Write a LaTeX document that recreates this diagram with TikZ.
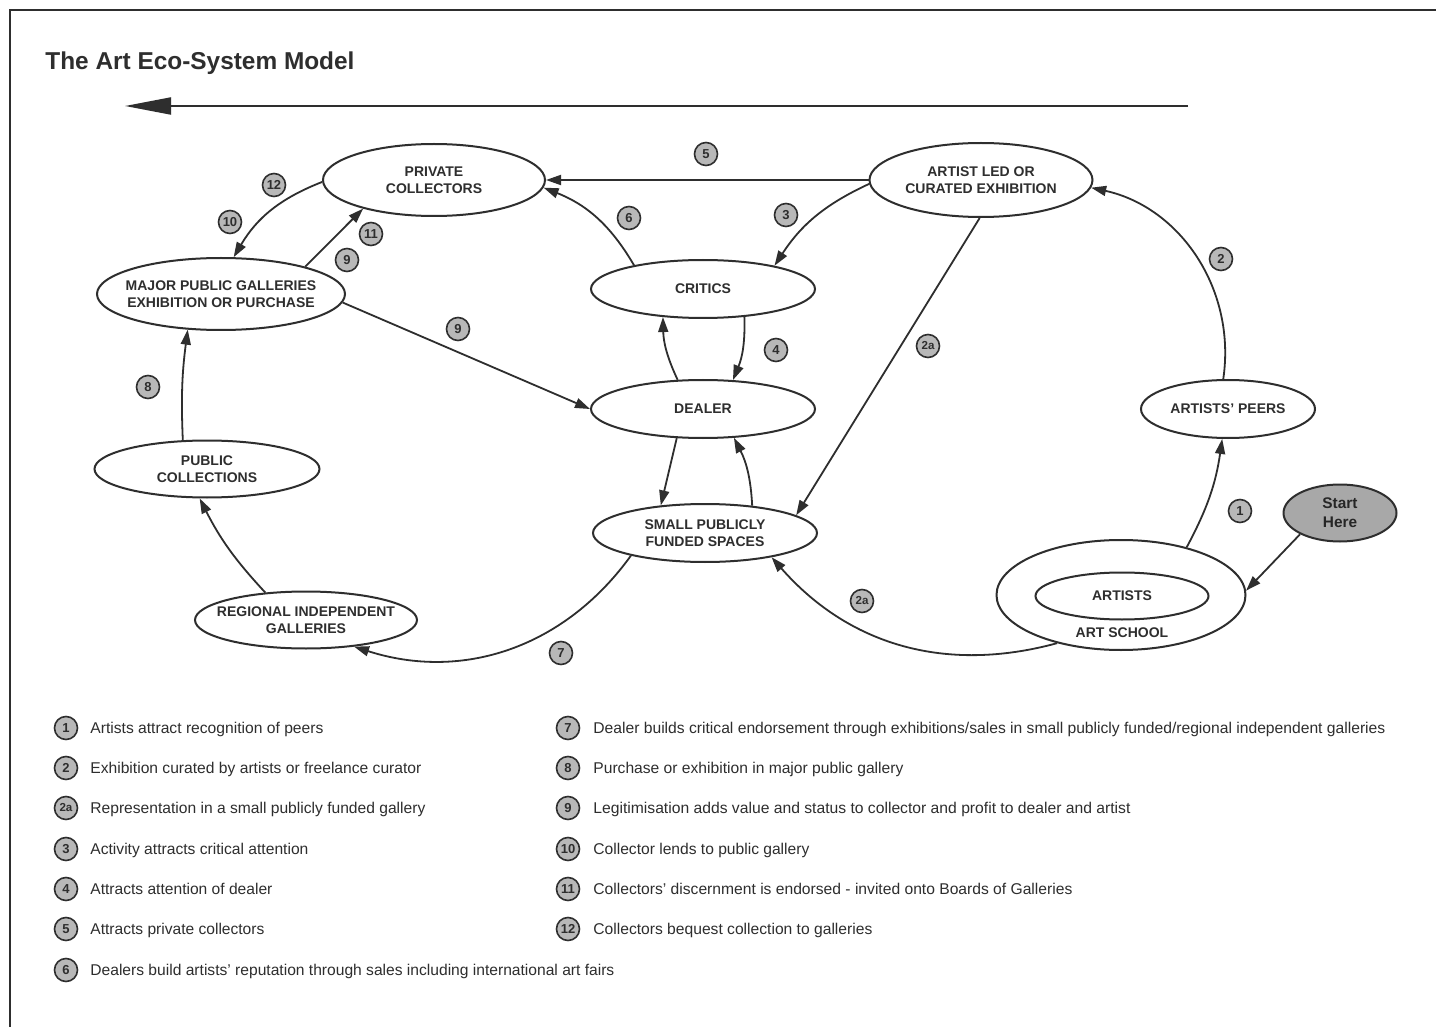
\documentclass[tikz,border=0pt]{standalone}
\usepackage{fontspec}
\setmainfont{Liberation Sans}
\usetikzlibrary{shapes.geometric,arrows.meta}
\definecolor{ink}{HTML}{2E2E2E}
\definecolor{badgefill}{HTML}{B8B8B8}
\definecolor{startfill}{HTML}{A8A8A8}
\newcommand{\fitw}[2]{\resizebox{#1}{\height}{#2}}
\begin{document}
\begin{tikzpicture}[x=0.5pt,y=-0.5pt,
  ent/.style={ellipse, draw=ink, line width=1pt, fill=white, inner sep=0pt},
  lbl/.style={font=\fontsize{7}{8.5}\selectfont\bfseries, text=ink, align=center, inner sep=0pt},
  edge/.style={draw=ink, line width=0.9pt, -{Triangle[length=7.5pt,width=5pt]}},
  badge/.style={circle, draw=ink, line width=0.8pt, fill=badgefill, inner sep=0pt, minimum size=11.5pt, font=\fontsize{6.5}{6.5}\selectfont\bfseries, text=ink},
  legtext/.style={anchor=base west, inner sep=0pt, font=\fontsize{7.8}{9}\selectfont, text=ink}]
\useasboundingbox (0,0) rectangle (1436,1027);
\fill[white] (0,0) rectangle (1436,1027);
% frame
\draw[ink, line width=0.75pt] (10,1027) -- (10,10) -- (1436,10);
% title
\node[anchor=base west, inner sep=0pt, font=\fontsize{12.2}{14}\selectfont\bfseries, text=ink] (title) at (45,70) {The Art Eco-System Model};
% top arrow
\coordinate (ta) at (1188,106);
\coordinate (tb) at (125,106);
\draw[ink, line width=1pt, -{Triangle[length=23pt,width=8.5pt]}] (ta) -- (tb);

% entities
\node[ent, minimum width=111pt, minimum height=36pt, label={[lbl,name=pcT]center:PRIVATE\\COLLECTORS}] (pc) at (434,180) {};
\node[ent, minimum width=111.5pt, minimum height=37pt, label={[lbl,name=aleT]center:ARTIST LED OR\\CURATED EXHIBITION}] (ale) at (981,180) {};
\node[ent, minimum width=112pt, minimum height=29pt, label={[lbl,name=crT]center:CRITICS}] (cr) at (703,289) {};
\node[ent, minimum width=112pt, minimum height=29pt, label={[lbl,name=deT]center:DEALER}] (de) at (703,409) {};
\node[ent, minimum width=112pt, minimum height=29pt, label={[lbl,name=smT]center:SMALL PUBLICLY\\FUNDED SPACES}] (sm) at (705,533) {};
\node[ent, minimum width=124pt, minimum height=36pt, label={[lbl,name=mpgT]center:MAJOR PUBLIC GALLERIES\\EXHIBITION OR PURCHASE}] (mpg) at (221,294) {};
\node[ent, minimum width=112.5pt, minimum height=28.5pt, label={[lbl,name=pubT]center:PUBLIC\\COLLECTIONS}] (pub) at (207,469) {};
\node[ent, minimum width=111pt, minimum height=28.5pt, label={[lbl,name=regT]center:REGIONAL INDEPENDENT\\GALLERIES}] (reg) at (306,620) {};
\node[ent, minimum width=87pt, minimum height=29pt, label={[lbl,name=peersT]center:ARTISTS' PEERS}] (peers) at (1228,409) {};
\node[ent, minimum width=124.5pt, minimum height=55pt] (school) at (1121,595) {};
\node[ent, minimum width=86.5pt, minimum height=23.5pt, label={[lbl,name=artistsT]center:ARTISTS}] (artists) at (1122,596) {};
\node[lbl] (schoolT) at (1122,633) {ART SCHOOL};
\node[ent, fill=startfill, minimum width=56.5pt, minimum height=28.5pt, label={[lbl,name=startT,font=\fontsize{7.7}{9.5}\selectfont\bfseries,text=black!85]center:Start\\Here}] (start) at (1340,513) {};

% connectors
\draw[edge] (school.36.9) to[bend right=10] (peers.259);
\draw[edge] (peers.99.8) to[bend right=43] (ale.356.4);
\draw[edge] (ale.268.5) -- (sm.11.6);
\draw[edge] (ale.182.6) to[bend right=16] (cr.18.4);
\draw[edge] (cr.326.6) to[bend left=12] (de.44);
\draw[edge] (de.131.9) to[bend left=12] (cr.215.3);
\draw[edge] (cr.161) to[bend right=19] (pc.356.4);
\draw[edge] (ale.180) -- (pc.0);
\draw[edge] (de.228) -- (sm.148);
\draw[edge] (sm.30.4) to[bend right=12] (de.317);
\draw[edge] (mpg.356.3) -- (de.180.5);
\draw[edge] (mpg.18.2) -- (pc.202);
\draw[edge] (pc.181.5) to[bend right=19] (mpg.71.6);
\draw[edge] (pub.130.6) to[bend left=5] (mpg.227.5);
\draw[edge] (reg.146.9) to[bend left=8] (pub.256);
\draw[edge] (sm.197.3) to[bend left=36] (reg.331);
\draw[edge] (school.217.3) to[bend left=32] (sm.340.7);
\draw[edge] (start.208.8) -- (school.2.3);

% diagram badges
\node[badge] (b5) at (706,154) {5};
\node[badge] (b12) at (274,185) {12};
\node[badge] (b10) at (230,222) {10};
\node[badge] (b11) at (371,234) {11};
\node[badge] (b9a) at (347,260) {9};
\node[badge] (b6) at (629,218) {6};
\node[badge] (b3) at (786,215) {3};
\node[badge] (b2) at (1221,259) {2};
\node[badge] (b9b) at (458,329) {9};
\node[badge, font=\fontsize{5.8}{5.8}\selectfont\bfseries] (b2aa) at (928,346) {2a};
\node[badge] (b4) at (776,350) {4};
\node[badge] (b8) at (148,387) {8};
\node[badge] (b1) at (1240,511) {1};
\node[badge, font=\fontsize{5.8}{5.8}\selectfont\bfseries] (b2ab) at (862,601) {2a};
\node[badge] (b7) at (561,653) {7};

% legend left
\node[badge] (l1) at (66,728) {1};
\node[legtext] (t1) at (90,733.5) {\fitw{116.5pt}{Artists attract recognition of peers}};
\node[badge] (l2) at (66,768) {2};
\node[legtext] (t2) at (90,773.5) {\fitw{165.5pt}{Exhibition curated by artists or freelance curator}};
\node[badge, font=\fontsize{5.8}{5.8}\selectfont\bfseries] (l2a) at (66,808) {2a};
\node[legtext] (t2a) at (90,813.5) {\fitw{167.5pt}{Representation in a small publicly funded gallery}};
\node[badge] (l3) at (66,849) {3};
\node[legtext] (t3) at (90,854.5) {\fitw{109pt}{Activity attracts critical attention}};
\node[badge] (l4) at (66,889) {4};
\node[legtext] (t4) at (90,894.5) {\fitw{91pt}{Attracts attention of dealer}};
\node[badge] (l5) at (66,929) {5};
\node[legtext] (t5) at (90,934.5) {\fitw{87pt}{Attracts private collectors}};
\node[badge] (l6) at (66,970) {6};
\node[legtext] (t6) at (90,975.5) {\fitw{262pt}{Dealers build artists' reputation through sales including international art fairs}};
% legend right
\node[badge] (l7) at (568,728) {7};
\node[legtext] (t7) at (593,733.5) {\fitw{396pt}{Dealer builds critical endorsement through exhibitions/sales in small publicly funded/regional independent galleries}};
\node[badge] (l8) at (568,768) {8};
\node[legtext] (t8) at (593,773.5) {\fitw{155pt}{Purchase or exhibition in major public gallery}};
\node[badge] (l9) at (568,808) {9};
\node[legtext] (t9) at (593,813.5) {\fitw{268.5pt}{Legitimisation adds value and status to collector and profit to dealer and artist}};
\node[badge] (l10) at (568,849) {10};
\node[legtext] (t10) at (593,854.5) {\fitw{108pt}{Collector lends to public gallery}};
\node[badge] (l11) at (568,889) {11};
\node[legtext] (t11) at (593,894.5) {\fitw{239.5pt}{Collectors' discernment is endorsed - invited onto Boards of Galleries}};
\node[badge] (l12) at (568,929) {12};
\node[legtext] (t12) at (593,934.5) {\fitw{139.5pt}{Collectors bequest collection to galleries}};
\end{tikzpicture}
\end{document}
